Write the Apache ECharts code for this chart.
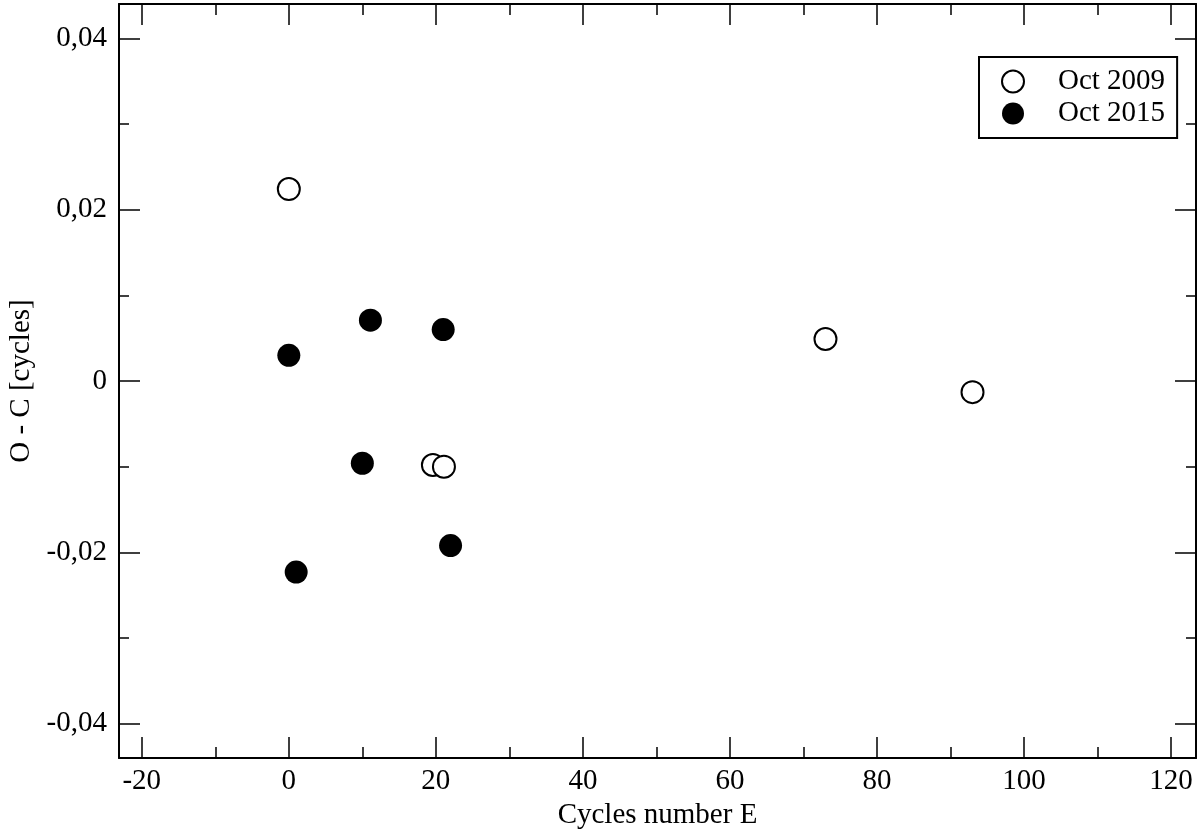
<!DOCTYPE html>
<html>
<head>
<meta charset="utf-8">
<script src="https://cdn.jsdelivr.net/npm/echarts@6/dist/echarts.min.js"></script>
<style>
html,body{margin:0;padding:0;background:#fff;}
#chart{width:1200px;height:830px;}
</style>
</head>
<body>
<div id="chart"></div>
<script>
// Oct 2009 (open circles)
var e2009 = [0, 19.6, 21.1, 73, 93];
var oc2009 = [0.0224, -0.0098, -0.0100, 0.0049, -0.0013];
// Oct 2015 (filled circles)
var e2015 = [0, 11.1, 21, 10, 22, 1];
var oc2015 = [0.0030, 0.0071, 0.0060, -0.0096, -0.0192, -0.0223];

var xMajor = [-20, 0, 20, 40, 60, 80, 100, 120];
var xMinor = [-10, 10, 30, 50, 70, 90, 110];
var yMajor = [-0.04, -0.02, 0, 0.02, 0.04];
var yMinor = [-0.03, -0.01, 0.01, 0.03];

var xRange = [-23.1, 123.4];
var yRange = [-0.044, 0.044];

var font = 'Liberation Serif';
var fs = 29;

function yFmt(v){
    if(Math.abs(v) < 1e-9) return '0';
    return v.toFixed(2).replace('.', ',');
}

function xAx(pos, ticks, len, showLine, showLabel, name){
    return {
        type:'value', position:pos, min:xRange[0], max:xRange[1],
        name:name||'', nameLocation:'middle', nameGap:39,
        nameTextStyle:{fontFamily:font, fontSize:fs, color:'#000'},
        axisLine:{show:showLine, onZero:false, lineStyle:{color:'#000', width:2}},
        axisTick:{show:true, inside:true, length:len, customValues:ticks, lineStyle:{color:'#000', width:1.5}},
        axisLabel:{show:showLabel, customValues:ticks, margin:9, fontFamily:font, fontSize:fs, color:'#000'},
        splitLine:{show:false}
    };
}
function yAx(pos, ticks, len, showLine, showLabel, name){
    return {
        type:'value', position:pos, min:yRange[0], max:yRange[1],
        name:name||'', nameLocation:'middle', nameGap:83,
        nameTextStyle:{fontFamily:font, fontSize:fs, color:'#000'},
        axisLine:{show:showLine, onZero:false, lineStyle:{color:'#000', width:2}},
        axisTick:{show:true, inside:true, length:len, customValues:ticks, lineStyle:{color:'#000', width:1.5}},
        axisLabel:{show:showLabel, customValues:ticks, margin:12, fontFamily:font, fontSize:fs, color:'#000', formatter:yFmt},
        splitLine:{show:false}
    };
}

var chart = echarts.init(document.getElementById('chart'));
chart.setOption({
    animation:false,
    backgroundColor:'#fff',
    grid:{left:119, top:4, right:4, bottom:72, containLabel:false, outerBoundsMode:'none'},
    legend:{
        orient:'vertical', left:979, top:57,
        padding:[10, 12, 10, 22], itemGap:3,
        itemWidth:22, itemHeight:22,
        borderColor:'#000', borderWidth:2, borderRadius:0,
        textStyle:{fontFamily:font, fontSize:fs, color:'#000', padding:[0,0,0,29]},
        data:['Oct 2009', 'Oct 2015']
    },
    xAxis:[
        xAx('bottom', xMajor, 21, true, true, 'Cycles number E'),
        xAx('bottom', xMinor, 11, false, false),
        xAx('top', xMajor, 21, true, false),
        xAx('top', xMinor, 11, false, false)
    ],
    yAxis:[
        yAx('left', yMajor, 21, true, true, 'O - C [cycles]'),
        yAx('left', yMinor, 10, false, false),
        yAx('right', yMajor, 21, true, false),
        yAx('right', yMinor, 10, false, false)
    ],
    series:[
        {
            name:'Oct 2009', type:'scatter', xAxisIndex:0, yAxisIndex:0,
            symbol:'circle', symbolSize:22,
            itemStyle:{color:'#fff', borderColor:'#000', borderWidth:2, opacity:1},
            data:e2009.map(function(e,i){return [e, oc2009[i]];})
        },
        {
            name:'Oct 2015', type:'scatter', xAxisIndex:0, yAxisIndex:0,
            symbol:'circle', symbolSize:23,
            itemStyle:{color:'#000', opacity:1},
            data:e2015.map(function(e,i){return [e, oc2015[i]];})
        }
    ]
});
</script>
</body>
</html>
